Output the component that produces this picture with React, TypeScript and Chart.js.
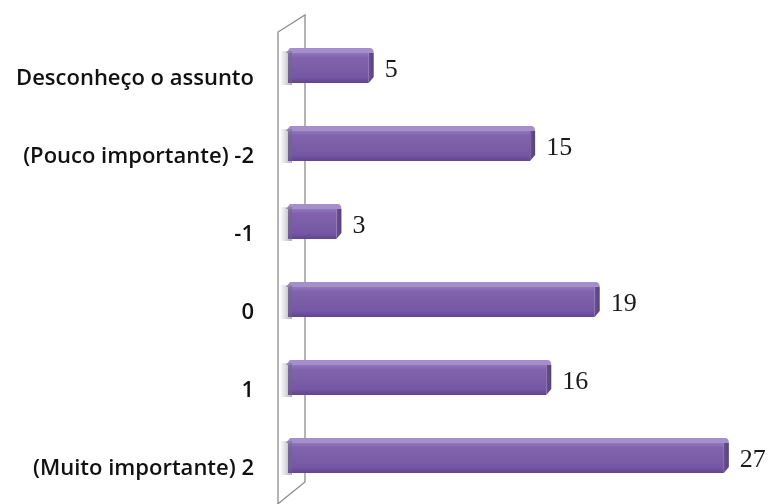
import React, { useEffect, useRef } from "react";
import { Chart, registerables } from "chart.js";

Chart.register(...registerables);

const categories = [
  "Desconheço o assunto",
  "(Pouco importante) -2",
  "-1",
  "0",
  "1",
  "(Muito importante) 2",
];
const values = [5, 15, 3, 19, 16, 27];
const xMax = 28;

const TOP_D = 5;

const wallPlugin = {
  id: "wall",
  beforeDatasetsDraw(chart: any) {
    const { ctx, chartArea } = chart;
    const x0 = chart.scales.x.getPixelForValue(0);
    const fx = x0 - 10;
    const bx = x0 + 17;
    const top = chartArea.top;
    const bottom = chartArea.bottom;
    ctx.save();
    ctx.strokeStyle = "#8c8c8c";
    ctx.lineWidth = 1.3;
    ctx.beginPath();
    ctx.moveTo(fx, bottom + 12);
    ctx.lineTo(fx, top + 5);
    ctx.lineTo(bx, top - 12);
    ctx.lineTo(bx, bottom - 13);
    ctx.lineTo(fx - 4, bottom + 12);
    ctx.stroke();
    ctx.restore();
  },
};

const bar3dPlugin = {
  id: "bar3d",
  afterDatasetsDraw(chart: any) {
    const { ctx } = chart;
    const meta = chart.getDatasetMeta(0);
    ctx.save();
    meta.data.forEach((el: any, i: number) => {
      const p = el.getProps(["x", "y", "base", "height"], true);
      const left = p.base;
      const right = p.x;
      const t = p.y - p.height / 2 + 2;
      const b = p.y + p.height / 2 + 2;
      const g = ctx.createLinearGradient(0, t, 0, b);
      g.addColorStop(0, "#9277bd");
      g.addColorStop(0.15, "#8163ad");
      g.addColorStop(0.8, "#7657a3");
      g.addColorStop(1, "#604590");
      ctx.clearRect(left, p.y - p.height / 2, right - left, p.height);
      ctx.fillStyle = g;
      ctx.fillRect(left, t, right - left, b - t);
      ctx.fillStyle = "#a58fcb";
      ctx.beginPath();
      ctx.moveTo(left - 2, t);
      ctx.lineTo(left + 2, t - TOP_D);
      ctx.lineTo(right + 1, t - TOP_D);
      ctx.quadraticCurveTo(right + 5, t - TOP_D, right + 5, t);
      ctx.lineTo(right, t);
      ctx.closePath();
      ctx.fill();
      const rg = ctx.createLinearGradient(right, 0, right + 5, 0);
      rg.addColorStop(0, "#6a4f98");
      rg.addColorStop(1, "#58407f");
      ctx.fillStyle = rg;
      ctx.beginPath();
      ctx.moveTo(right, t);
      ctx.lineTo(right + 5, t);
      ctx.lineTo(right + 5, b - 6);
      ctx.lineTo(right, b);
      ctx.closePath();
      ctx.fill();
      const sg = ctx.createLinearGradient(left - 8, 0, left + 4, 0);
      sg.addColorStop(0, "rgba(120,120,120,0)");
      sg.addColorStop(1, "rgba(110,100,130,0.55)");
      ctx.fillStyle = sg;
      ctx.fillRect(left - 8, t - 2, 12, b - t + 4);
      ctx.fillStyle = "#1a1a1a";
      ctx.font = "26px 'Liberation Serif', 'DejaVu Serif', serif";
      ctx.textAlign = "left";
      ctx.textBaseline = "middle";
      ctx.fillText(String(values[i]), right + 16, p.y + 4);
    });
    ctx.restore();
  },
};

export default function App() {
  const ref = useRef<HTMLCanvasElement>(null);
  useEffect(() => {
    if (!ref.current) return;
    const chart = new Chart(ref.current, {
      type: "bar",
      data: {
        labels: categories,
        datasets: [
          {
            data: values,
            backgroundColor: "rgba(0,0,0,0)",
            borderWidth: 0,
            barThickness: 30,
          },
        ],
      },
      options: {
        indexAxis: "y",
        animation: false,
        responsive: false,
        maintainAspectRatio: false,
        layout: { padding: { top: 27, bottom: 9, right: 31, left: 0 } },
        plugins: {
          legend: { display: false },
          tooltip: { enabled: false },
        },
        scales: {
          x: { display: false, min: 0, max: xMax },
          y: {
            grid: { display: false, drawTicks: false },
            border: { display: false },
            afterFit(scale: any) {
              scale.width = 288;
              scale.paddingTop = 0;
              scale.paddingBottom = 0;
            },
            ticks: {
              padding: 34,
              labelOffset: 13,
              color: "#111",
              font: { family: "'Open Sans', Lato, sans-serif", size: 22, weight: 600 },
            },
          },
        },
      },
      plugins: [wallPlugin, bar3dPlugin],
    });
    return () => chart.destroy();
  }, []);
  return (
    <div style={{ position: "fixed", left: 0, top: 0, width: 771, height: 504, background: "#fff" }}>
      <canvas ref={ref} width={771} height={504} />
    </div>
  );
}
